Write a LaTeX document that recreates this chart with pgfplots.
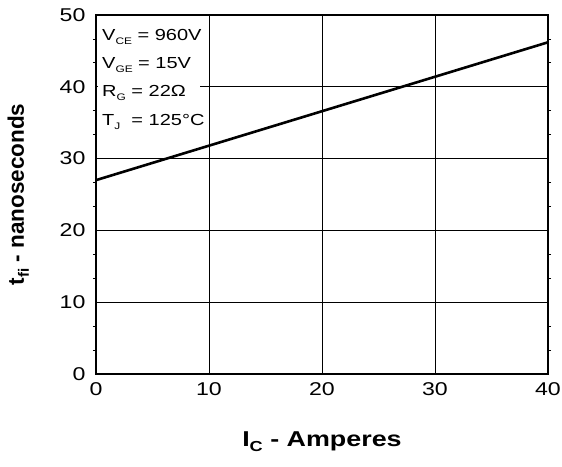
\documentclass[border=0pt]{standalone}
\usepackage{fontspec}
\setmainfont{Liberation Sans}[FakeStretch=1.25]
\newfontfamily\ylabfont{Liberation Sans}
\usepackage{pgfplots}
\pgfplotsset{compat=1.18}
\newcommand{\subs}[1]{\raisebox{-4pt}{\fontsize{9.5}{10}\selectfont #1}}
\begin{document}
\begin{tikzpicture}
\begin{axis}[
  scale only axis, width=452pt, height=359pt,
  xmin=0, xmax=40, ymin=0, ymax=50,
  xtick={0,10,20,30,40}, ytick={0,10,20,30,40,50},
  minor y tick num=2,
  grid=major,
  major grid style={black, line width=0.8pt},
  major tick length=0pt, minor tick length=3pt, tick align=outside,
  tick style={black, line width=0.8pt},
  axis line style={line width=1.3pt},
  /pgf/number format/assume math mode=true,
  ticklabel style={font=\fontsize{18.5}{19}\selectfont},
  yticklabel style={xshift=-7pt},
  xticklabel style={yshift=-5pt},
  xlabel={\textbf{I\raisebox{-5pt}{\fontsize{14.5}{14.5}\selectfont C} - Amperes}},
  ylabel={\ylabfont\bfseries t\raisebox{-5pt}{\fontsize{15}{15}\selectfont fi} - nanoseconds},
  xlabel style={at={(axis description cs:0.5,-0.2006)}, anchor=base, font=\fontsize{21.5}{22}\selectfont},
  ylabel style={at={(axis description cs:-0.1593,0.5)}, anchor=base, font=\fontsize{22.5}{23}\selectfont},
]
\fill[white] (axis cs:0.15,33) rectangle (axis cs:9.2,49.85);
\addplot[black, line width=2.6pt] coordinates {(0,27.0) (10,31.8) (20,36.6) (30,41.4) (40,46.2)};
\begin{scope}[every node/.style={anchor=base west, inner sep=0pt, font=\fontsize{16}{16}\selectfont}]
\node at (axis cs:0.53,46.4) {V\subs{CE} = 960V};
\node at (axis cs:0.53,42.6) {V\subs{GE} = 15V};
\node at (axis cs:0.53,38.6) {R\subs{G} = 22Ω};
\node at (axis cs:0.53,34.6) {T\subs{J}\ \ = 125°C};
\end{scope}
\end{axis}
\pgfresetboundingbox
\path (-96pt,-92pt) rectangle (466pt,374pt);
\end{tikzpicture}
\end{document}
